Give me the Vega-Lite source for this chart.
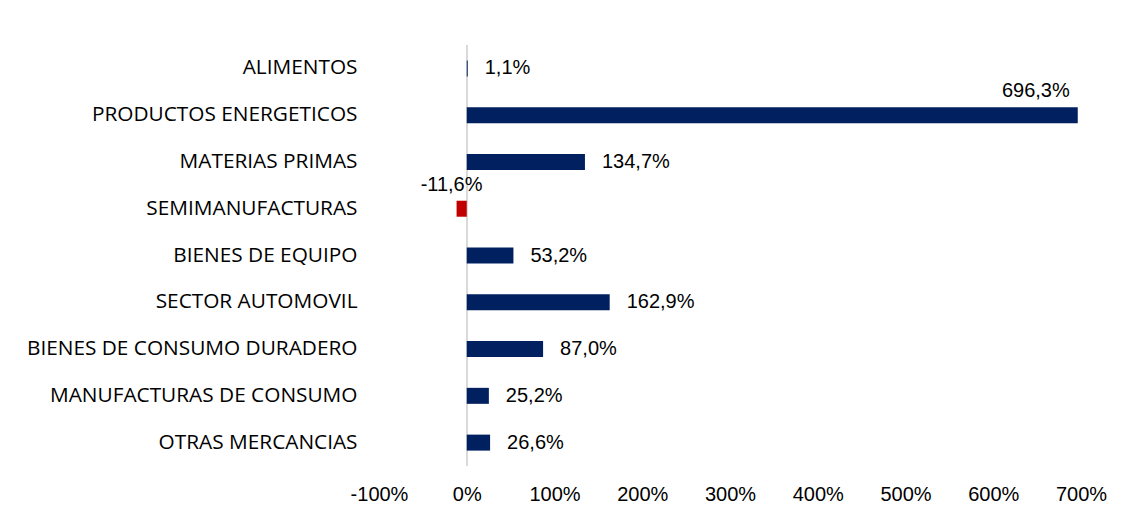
{
  "$schema": "https://vega.github.io/schema/vega-lite/v6.json",
  "width": 702,
  "height": 421,
  "autosize": {"type": "none"},
  "padding": {"left": 379, "top": 45, "right": 42, "bottom": 47},
  "background": "white",
  "config": {
    "locale": {"number": {"decimal": ",", "thousands": ".", "grouping": [3], "currency": ["", " €"], "minus": "-"}},
    "view": {"stroke": null}
  },
  "data": {
    "values": [
      {"cat": "ALIMENTOS", "v": 0.011},
      {"cat": "PRODUCTOS ENERGETICOS", "v": 6.963},
      {"cat": "MATERIAS PRIMAS", "v": 1.347},
      {"cat": "SEMIMANUFACTURAS", "v": -0.116},
      {"cat": "BIENES DE EQUIPO", "v": 0.532},
      {"cat": "SECTOR AUTOMOVIL", "v": 1.629},
      {"cat": "BIENES DE CONSUMO DURADERO", "v": 0.870},
      {"cat": "MANUFACTURAS DE CONSUMO", "v": 0.252},
      {"cat": "OTRAS MERCANCIAS", "v": 0.266}
    ]
  },
  "layer": [
    {
      "mark": {"type": "rule", "color": "#D9D9D9", "strokeWidth": 1.5},
      "encoding": {
        "x": {"datum": 0, "type": "quantitative"}
      }
    },
    {
      "mark": {"type": "bar"},
      "encoding": {
        "y": {
          "field": "cat", "type": "nominal", "sort": null,
          "scale": {"paddingInner": 0.658, "paddingOuter": 0.329},
          "axis": {
            "title": null, "domain": false, "ticks": false, "labelPadding": 22,
            "labelFont": "Open Sans", "labelFontSize": 20.8, "labelColor": "#000000", "labelLimit": 400
          }
        },
        "x": {
          "field": "v", "type": "quantitative",
          "scale": {"domain": [-1, 7], "nice": false, "zero": false},
          "axis": {
            "title": null, "domain": false, "ticks": false, "grid": false,
            "values": [-1, 0, 1, 2, 3, 4, 5, 6, 7], "format": ".0%",
            "labelFlush": false, "labelOverlap": false, "labelPadding": 18,
            "labelFont": "Liberation Sans", "labelFontSize": 20, "labelColor": "#000000"
          }
        },
        "color": {"condition": {"test": "datum.v < 0", "value": "#C00000"}, "value": "#002060"}
      }
    },
    {
      "transform": [{"filter": "datum.v >= 0 && datum.cat != 'PRODUCTOS ENERGETICOS'"}],
      "mark": {"type": "text", "align": "left", "baseline": "middle", "dx": 17, "font": "Liberation Sans", "fontSize": 20, "color": "#000000"},
      "encoding": {
        "y": {"field": "cat", "type": "nominal", "sort": null},
        "x": {"field": "v", "type": "quantitative"},
        "text": {"field": "v", "type": "quantitative", "format": ".1%"}
      }
    },
    {
      "transform": [{"filter": "datum.cat == 'PRODUCTOS ENERGETICOS'"}],
      "mark": {"type": "text", "align": "right", "baseline": "middle", "dx": -8, "dy": -24, "font": "Liberation Sans", "fontSize": 20, "color": "#000000"},
      "encoding": {
        "y": {"field": "cat", "type": "nominal", "sort": null},
        "x": {"field": "v", "type": "quantitative"},
        "text": {"field": "v", "type": "quantitative", "format": ".1%"}
      }
    },
    {
      "transform": [{"filter": "datum.v < 0"}],
      "mark": {"type": "text", "align": "center", "baseline": "middle", "dx": -5, "dy": -24, "font": "Liberation Sans", "fontSize": 20, "color": "#000000"},
      "encoding": {
        "y": {"field": "cat", "type": "nominal", "sort": null},
        "x": {"field": "v", "type": "quantitative"},
        "text": {"field": "v", "type": "quantitative", "format": ".1%"}
      }
    }
  ]
}
